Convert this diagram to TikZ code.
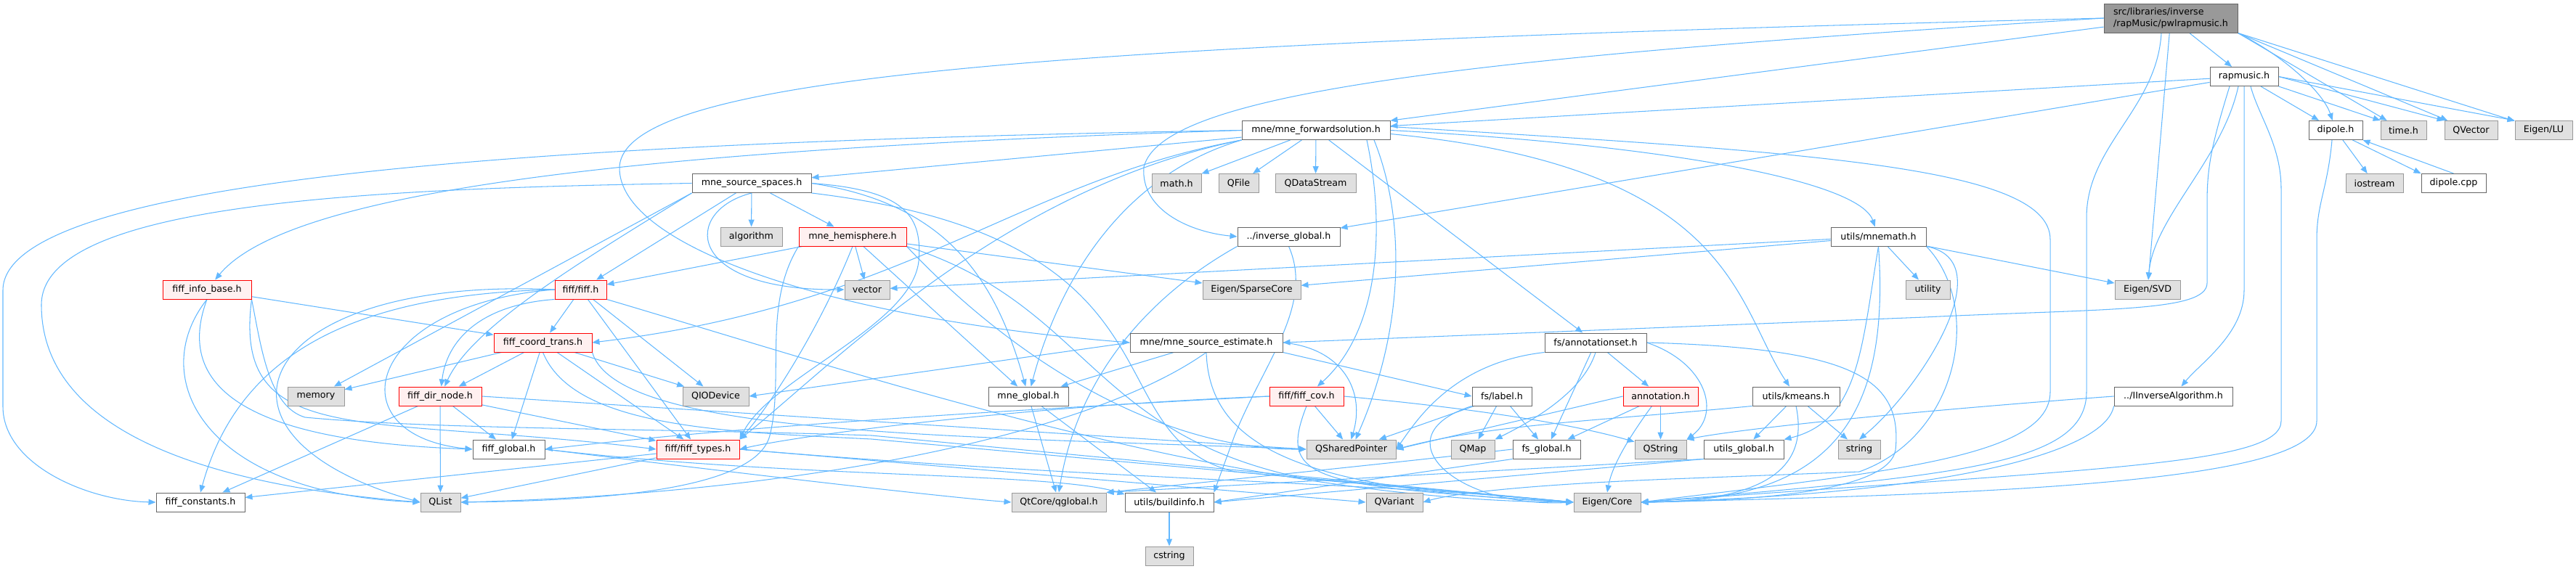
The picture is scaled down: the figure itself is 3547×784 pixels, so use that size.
\documentclass[tikz,border=0pt]{standalone}
\usepackage{fontspec}
\setmainfont{DejaVu Sans}
\usetikzlibrary{arrows.meta,backgrounds}
\definecolor{edgeblue}{HTML}{63B8FF}
\definecolor{docgrey}{HTML}{666666}
\definecolor{sysgrey}{HTML}{999999}
\definecolor{sysfill}{HTML}{E0E0E0}
\definecolor{cutfill}{HTML}{FFF0F0}
\definecolor{maingrey}{HTML}{999999}
\tikzset{
  hdr/.style={rectangle, draw=docgrey, fill=white, line width=0.55pt, inner sep=0pt,
    minimum height=0.52cm, font=\fontsize{7.2}{8.6}\selectfont},
  sys/.style={hdr, draw=sysgrey, fill=sysfill},
  trunc/.style={hdr, draw=red, fill=cutfill},
  wd/.style={minimum width=#1*0.02cm},
  dep/.style={edgeblue, line width=0.6pt, -{Triangle[length=0.2cm,width=0.16cm]}},
}
\begin{document}
\begin{tikzpicture}[x=0.02cm,y=-0.02cm]
\useasboundingbox (0,0) rectangle (3547,784);
% headers, row by row
\node[hdr, fill=maingrey, wd=184, minimum height=0.8cm, align=left] (pwl) at (2989,25) {src/libraries/inverse\\/rapMusic/pwlrapmusic.h};
\node[hdr, wd=94] (rapmusic) at (3090,105.5) {rapmusic.h};
\node[hdr, wd=204] (fwd) at (1812,179.5) {mne/mne\_forwardsolution.h};
\node[hdr, wd=74] (dipole) at (3216,179.5) {dipole.h};
\node[sys, wd=63] (timeh) at (3309.5,179.5) {time.h};
\node[sys, wd=73] (qvector) at (3402.5,179.5) {QVector};
\node[sys, wd=79] (eigenlu) at (3502.5,179.5) {Eigen/LU};
\node[hdr, wd=164] (srcspaces) at (1035,252.5) {mne\_source\_spaces.h};
\node[sys, wd=68] (mathh) at (1620,252.5) {math.h};
\node[sys, wd=55] (qfile) at (1705.5,252.5) {QFile};
\node[sys, wd=111] (qdatastream) at (1811.5,252.5) {QDataStream};
\node[sys, wd=79] (iostream) at (3269.5,252.5) {iostream};
\node[hdr, wd=89] (dipolecpp) at (3378.5,252.5) {dipole.cpp};
\node[sys, wd=85] (algorithm) at (1034.5,326) {algorithm};
\node[trunc, wd=148] (hemisphere) at (1174,326) {mne\_hemisphere.h};
\node[hdr, wd=141] (invglobal) at (1774.5,326) {../inverse\_global.h};
\node[hdr, wd=131] (mnemath) at (2586.5,326) {utils/mnemath.h};
\node[trunc, wd=122] (fiffinfobase) at (285,399) {fiff\_info\_base.h};
\node[trunc, wd=71] (fiffh) at (799.5,399) {fiff/fiff.h};
\node[sys, wd=62] (vectorh) at (1194,399) {vector};
\node[sys, wd=135] (sparsecore) at (1723.5,399) {Eigen/SparseCore};
\node[sys, wd=61] (utility) at (2654.5,399) {utility};
\node[sys, wd=90] (svd) at (2957,399) {Eigen/SVD};
\node[trunc, wd=135] (coordtrans) at (747.5,472) {fiff\_coord\_trans.h};
\node[hdr, wd=210] (srcest) at (1661,472) {mne/mne\_source\_estimate.h};
\node[hdr, wd=140] (annotset) at (2197,472) {fs/annotationset.h};
\node[sys, wd=78] (memory) at (435,546) {memory};
\node[trunc, wd=114] (dirnode) at (606,546) {fiff\_dir\_node.h};
\node[sys, wd=91] (qiodevice) at (985.5,546) {QIODevice};
\node[hdr, wd=110] (mneglobal) at (1416,546) {mne\_global.h};
\node[trunc, wd=102] (fiffcov) at (1799,546) {fiff/fiff\_cov.h};
\node[hdr, wd=82] (fslabel) at (2068,546) {fs/label.h};
\node[trunc, wd=103] (annotation) at (2286.5,546) {annotation.h};
\node[hdr, wd=120] (kmeans) at (2473,546) {utils/kmeans.h};
\node[hdr, wd=163] (iinverse) at (2992.5,546) {../IInverseAlgorithm.h};
\node[hdr, wd=99] (fiffglobal) at (700.5,619) {fiff\_global.h};
\node[trunc, wd=114] (fifftypes) at (961,619) {fiff/fiff\_types.h};
\node[sys, wd=123] (qsharedptr) at (1860.5,619) {QSharedPointer};
\node[sys, wd=60] (qmap) at (2028,619) {QMap};
\node[hdr, wd=93] (fsglobal) at (2129.5,619) {fs\_global.h};
\node[sys, wd=71] (qstring) at (2286.5,619) {QString};
\node[hdr, wd=110] (utilsglobal) at (2401,619) {utils\_global.h};
\node[sys, wd=58] (stringh) at (2560,619) {string};
\node[hdr, wd=122] (fiffconst) at (276,692) {fiff\_constants.h};
\node[sys, wd=55] (qlist) at (606.5,692) {QList};
\node[sys, wd=130] (qglobal) at (1458,692) {QtCore/qglobal.h};
\node[hdr, wd=122] (buildinfo) at (1610,692) {utils/buildinfo.h};
\node[sys, wd=78] (qvariant) at (1920,692) {QVariant};
\node[sys, wd=92] (eigencore) at (2213,692) {Eigen/Core};
\node[sys, wd=66] (cstring) at (1610,766) {cstring};

\begin{scope}[on background layer]
% pwlrapmusic.h
\draw[dep] (pwl) -- (rapmusic);
\draw[dep] (pwl) -- (fwd);
\draw[dep] (pwl.west) .. controls (1500,60) and (860,100) .. (853,230) .. controls (850,340) and (1150,440) .. (srcest.west);
\draw[dep] (pwl.west) .. controls (2000,80) and (1600,130) .. (1575,230) .. controls (1570,290) and (1640,320) .. (invglobal.west);
\draw[dep] (pwl) -- (svd);
\draw[dep] ([xshift=-0.26cm]pwl.south) .. controls (2970,150) and (2873,200) .. (2873,300) -- (2873,540) .. controls (2873,640) and (2700,655) .. (eigencore.east);
\draw[dep] (pwl.south east) .. controls (3150,80) and (3200,130) .. (dipole);
\draw[dep] (pwl.south east) -- (timeh);
\draw[dep] (pwl.south east) -- (qvector);
\draw[dep] (pwl.south east) -- (eigenlu);
% rapmusic.h
\draw[dep] (rapmusic) -- (fwd);
\draw[dep] (rapmusic) -- (invglobal);
\draw[dep] ([xshift=-0.4cm]rapmusic.south) .. controls (3045,200) and (3039,230) .. (3039,280) -- (3039,390) .. controls (3039,430) and (2900,425) .. (2650,437) -- (srcest.east);
\draw[dep] ([xshift=-0.16cm]rapmusic.south) .. controls (3060,220) and (2965,300) .. (svd);
\draw[dep] (rapmusic.south) -- (3090,400) .. controls (3090,460) and (3030,500) .. (iinverse);
\draw[dep] ([xshift=0.18cm]rapmusic.south) .. controls (3110,160) and (3141,200) .. (3141,260) -- (3141,580) .. controls (3141,640) and (2900,645) .. (eigencore.east);
\draw[dep] (rapmusic) -- (dipole);
\draw[dep] (rapmusic.south east) -- (timeh.north west);
\draw[dep] (rapmusic.east) -- (qvector.north west);
\draw[dep] (rapmusic.east) -- (eigenlu.north west);
% dipole.h
\draw[dep] (dipole) -- (iostream);
\draw[dep] (dipole.-30) -- (dipolecpp.north west);
\draw[dep] (dipolecpp.north) -- (dipole.south east);
\draw[dep] ([xshift=-0.1cm]dipole.south) .. controls (3205,260) and (3190,280) .. (3190,330) -- (3190,580) .. controls (3190,660) and (2800,680) .. (eigencore.east);
% mne_forwardsolution.h
\draw[dep] (fwd) -- (srcspaces);
\draw[dep] (fwd.west) .. controls (900,205) and (400,260) .. (fiffinfobase);
\draw[dep] (fwd.west) .. controls (800,195) and (4,240) .. (4,400) -- (4,560) .. controls (4,640) and (120,690) .. (fiffconst.west);
\draw[dep] (fwd.south west) .. controls (1400,250) and (1250,420) .. (coordtrans.east);
\draw[dep] (fwd.south west) .. controls (1380,260) and (1150,500) .. (fifftypes.north east);
\draw[dep] (fwd.south west) .. controls (1550,240) and (1460,380) .. (mneglobal);
\draw[dep] (fwd) -- (mathh);
\draw[dep] (fwd) -- (qfile);
\draw[dep] (fwd) -- (qdatastream);
\draw[dep] ([xshift=1.4cm]fwd.south) .. controls (1905,300) and (1905,450) .. (fiffcov);
\draw[dep] ([xshift=1.6cm]fwd.south) .. controls (1935,300) and (1935,450) .. (qsharedptr);
\draw[dep] (fwd.east) .. controls (2300,200) and (2560,250) .. (mnemath);
\draw[dep] (fwd) -- (annotset);
\draw[dep] ([yshift=-0.1cm]fwd.east) .. controls (2389,230) and (2389,420) .. (kmeans);
\draw[dep] ([yshift=0.1cm]fwd.east) .. controls (2500,210) and (2823,230) .. (2823,330) -- (2823,540) .. controls (2823,630) and (2600,650) .. (eigencore.east);
% mne_source_spaces.h
\draw[dep] (srcspaces.west) .. controls (500,260) and (57,280) .. (57,420) .. controls (57,600) and (300,670) .. (qlist.west);
\draw[dep] (srcspaces.south west) -- (memory);
\draw[dep] (srcspaces.south west) .. controls (800,360) and (650,450) .. (dirnode);
\draw[dep] (srcspaces) -- (fiffh);
\draw[dep] (srcspaces.south) .. controls (940,290) and (940,400) .. (vectorh.west);
\draw[dep] (srcspaces) -- (algorithm);
\draw[dep] (srcspaces) -- (hemisphere);
\draw[dep] (srcspaces.east) .. controls (1300,280) and (1370,380) .. (mneglobal);
\draw[dep] (srcspaces.east) .. controls (1250,262) and (1270,300) .. (1265,360) .. controls (1255,450) and (1060,520) .. (fifftypes.north east);
\draw[dep] (srcspaces.south east) .. controls (1650,330) and (1500,600) .. (1700,650) -- (eigencore.west);
% mne_hemisphere.h
\draw[dep] (hemisphere) -- (fiffh);
\draw[dep] (hemisphere) -- (vectorh);
\draw[dep] (hemisphere) -- (mneglobal);
\draw[dep] (hemisphere) -- (sparsecore);
\draw[dep] (hemisphere.south) .. controls (1130,450) and (1060,560) .. (fifftypes.north east);
\draw[dep] (hemisphere.south west) .. controls (1050,420) and (1080,520) .. (1060,600) .. controls (1040,680) and (800,690) .. (qlist.east);
\draw[dep] (hemisphere.south east) .. controls (1500,420) and (1500,600) .. (1800,660) -- (eigencore.west);
\draw[dep] (hemisphere.south east) .. controls (1400,500) and (1600,620) .. (qsharedptr.west);
% fiff_info_base.h
\draw[dep] (fiffinfobase) -- (coordtrans);
\draw[dep] (fiffinfobase.south) .. controls (200,520) and (280,680) .. (qlist.west);
\draw[dep] (fiffinfobase.south) .. controls (230,560) and (400,610) .. (fiffglobal.west);
\draw[dep] (fiffinfobase.south east) .. controls (320,620) and (500,570) .. (fifftypes.west);
\draw[dep] (fiffinfobase.south east) .. controls (360,480) and (370,560) .. (420,575) .. controls (600,592) and (900,590) .. (1200,600) -- (eigencore.west);
% fiff/fiff.h
\draw[dep] (fiffh) -- (coordtrans);
\draw[dep] (fiffh) -- (qiodevice);
\draw[dep] (fiffh) -- (fifftypes);
\draw[dep] (fiffh.south west) .. controls (660,420) and (615,470) .. (dirnode);
\draw[dep] (fiffh.west) .. controls (500,420) and (460,600) .. (fiffglobal.west);
\draw[dep] (fiffh.west) .. controls (350,380) and (250,600) .. (qlist.west);
\draw[dep] (fiffh.west) .. controls (500,405) and (330,480) .. (fiffconst.north);
\draw[dep] (fiffh.south east) .. controls (1200,520) and (1700,690) .. (eigencore.west);
% fiff_coord_trans.h
\draw[dep] (coordtrans) -- (memory);
\draw[dep] (coordtrans) -- (dirnode);
\draw[dep] (coordtrans) -- (fiffglobal);
\draw[dep] (coordtrans) -- (fifftypes);
\draw[dep] (coordtrans) -- (qiodevice);
\draw[dep] (coordtrans.south) .. controls (790,590) and (1000,595) .. (1200,605) -- (eigencore.west);
\draw[dep] (coordtrans.south east) .. controls (850,600) and (1300,600) .. (qsharedptr.west);
% fiff_dir_node.h
\draw[dep] (dirnode) -- (fiffconst);
\draw[dep] (dirnode) -- (qlist);
\draw[dep] (dirnode) -- (fiffglobal);
\draw[dep] (dirnode) -- (fifftypes);
\draw[dep] (dirnode.east) -- (qsharedptr.west);
% fiff/fiff_types.h
\draw[dep] (fifftypes) -- (fiffconst);
\draw[dep] (fifftypes) -- (qlist);
\draw[dep] (fifftypes.east) .. controls (1500,660) and (1900,665) .. (eigencore.west);
\draw[dep] (fifftypes.east) -- (qvariant.west);
% fiff/fiff_cov.h
\draw[dep] (fiffcov.west) .. controls (1300,570) and (1000,590) .. (fiffglobal.east);
\draw[dep] (fiffcov.west) .. controls (1400,560) and (1100,600) .. (fifftypes.east);
\draw[dep] (fiffcov) -- (qsharedptr);
\draw[dep] (fiffcov.east) .. controls (2000,560) and (2150,580) .. (qstring);
\draw[dep] (fiffcov.south) .. controls (1760,660) and (1800,670) .. (eigencore.west);
% fs/label.h
\draw[dep] (fslabel) -- (qsharedptr);
\draw[dep] (fslabel) -- (qmap);
\draw[dep] (fslabel) -- (fsglobal);
\draw[dep] (fslabel.south west) .. controls (1900,600) and (2000,700) .. (eigencore.west);
% fs/annotationset.h
\draw[dep] (annotset.south west) .. controls (2000,500) and (1950,580) .. (qsharedptr.east);
\draw[dep] (annotset.south) .. controls (2180,540) and (2110,580) .. (qmap.north east);
\draw[dep] (annotset) -- (fsglobal);
\draw[dep] (annotset) -- (annotation);
\draw[dep] (annotset.east) .. controls (2350,500) and (2370,570) .. (qstring.north east);
\draw[dep] (annotset.east) .. controls (2550,480) and (2620,520) .. (2610,620) .. controls (2600,680) and (2400,690) .. (eigencore.east);
% annotation.h
\draw[dep] (annotation.west) -- (qsharedptr.east);
\draw[dep] (annotation) -- (fsglobal);
\draw[dep] (annotation) -- (qstring);
\draw[dep] ([xshift=-0.24cm]annotation.south) .. controls (2245,600) and (2220,640) .. (eigencore.north);
% utils/kmeans.h
\draw[dep] (kmeans.south west) .. controls (2200,580) and (2050,585) .. (qsharedptr.east);
\draw[dep] (kmeans) -- (utilsglobal);
\draw[dep] (kmeans.south) .. controls (2490,640) and (2440,690) .. (eigencore.east);
\draw[dep] (kmeans) -- (stringh);
% utils/mnemath.h
\draw[dep] (mnemath) -- (vectorh);
\draw[dep] (mnemath) -- (sparsecore);
\draw[dep] (mnemath) -- (svd);
\draw[dep] (mnemath) -- (utility);
\draw[dep] (mnemath.south east) .. controls (2760,360) and (2640,540) .. (stringh.north);
\draw[dep] (mnemath.south) .. controls (2563,480) and (2560,580) .. (utilsglobal.north east);
\draw[dep] (mnemath.south) .. controls (2605,600) and (2500,690) .. (eigencore.east);
\draw[dep] (mnemath.south east) .. controls (2730,420) and (2700,600) .. (2560,650) -- (2300,660) .. controls (2100,668) and (2000,680) .. (qvariant.east);
% ../IInverseAlgorithm.h
\draw[dep] (iinverse.west) .. controls (2650,565) and (2400,590) .. (qstring.north east);
\draw[dep] (iinverse.south west) .. controls (2900,620) and (2700,680) .. (eigencore.east);
% ../inverse_global.h
\draw[dep] (invglobal.south west) .. controls (1560,420) and (1480,540) .. (qglobal.north);
\draw[dep] (invglobal.south) .. controls (1810,420) and (1740,500) .. (1700,600) -- (buildinfo.north east);
% mne/mne_source_estimate.h
\draw[dep] (srcest.west) -- (qiodevice.east);
\draw[dep] (srcest) -- (mneglobal);
\draw[dep] (srcest.south east) -- (fslabel.west);
\draw[dep] (srcest.east) .. controls (1850,480) and (1880,540) .. (qsharedptr.north);
\draw[dep] (srcest.south) .. controls (1500,600) and (1100,680) .. (qlist.east);
\draw[dep] (srcest.south) .. controls (1665,620) and (1800,675) .. (eigencore.west);
% *_global.h
\draw[dep] (mneglobal) -- (qglobal);
\draw[dep] (mneglobal) -- (buildinfo);
\draw[dep] (fiffglobal.east) .. controls (1000,650) and (1300,685) .. (qglobal.west);
\draw[dep] (fiffglobal.east) .. controls (1100,660) and (1450,650) .. (buildinfo.170);
\draw[dep] (fsglobal.west) .. controls (1900,640) and (1700,660) .. (qglobal.north east);
\draw[dep] (fsglobal.south west) -- (buildinfo.east);
\draw[dep] (utilsglobal.south west) -- (qglobal.north east);
\draw[dep] (utilsglobal.south west) -- (buildinfo.east);
\draw[dep] (buildinfo) -- (cstring);
\end{scope}
\end{tikzpicture}
\end{document}
